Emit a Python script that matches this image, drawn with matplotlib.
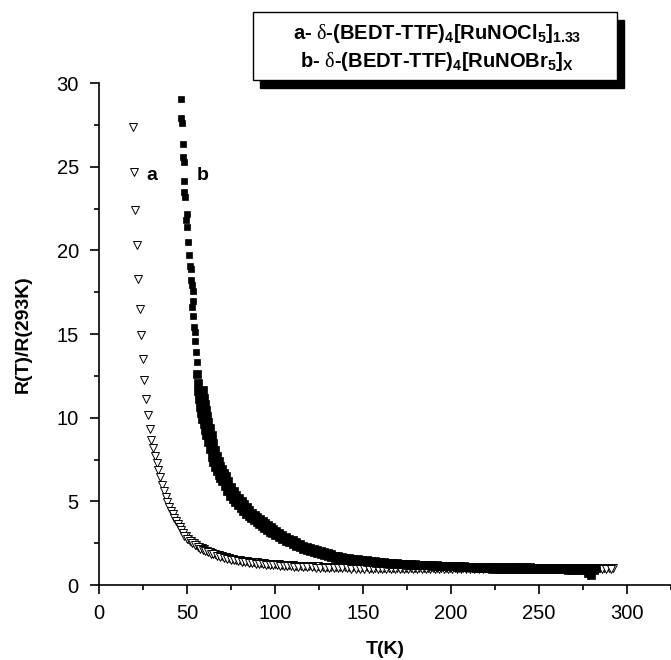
import matplotlib
matplotlib.use('Agg')
import matplotlib.pyplot as plt
from matplotlib.patches import Rectangle

plt.rcParams['font.family'] = ['Liberation Sans', 'DejaVu Sans']
plt.rcParams['mathtext.fontset'] = 'custom'
plt.rcParams['mathtext.rm'] = 'Liberation Sans:bold'
plt.rcParams['mathtext.it'] = 'Liberation Sans:bold'
plt.rcParams['mathtext.bf'] = 'Liberation Sans:bold'
plt.rcParams['mathtext.sf'] = 'Liberation Serif'

# curve a: delta-(BEDT-TTF)4[RuNOCl5]1.33, open triangles
T_a = [19.4, 19.9, 20.5, 21.4, 22.3, 23.1, 24.1, 24.8, 25.7, 26.7, 27.8, 28.8,
       29.8, 30.8, 31.8, 32.8, 33.8, 34.8, 35.8, 36.8, 37.8, 38.8, 39.8, 40.8,
       41.8, 42.8, 43.8, 44.8, 45.8, 46.8, 47.8, 49.3, 50.8, 52.3, 53.8, 55.3,
       56.8, 58.3, 59.8, 61.3, 62.8, 64.3, 65.8, 68, 70, 72, 74, 76, 78, 80,
       82, 84, 86, 88, 90, 92, 94, 96, 98, 100, 102, 104, 106, 108, 110, 112,
       114.5, 117, 119.5, 122, 124.5, 127, 129.5, 132, 134.5, 137, 139.5, 142,
       144.5, 147, 149.5, 152, 154.5, 157, 159.5, 162, 164.5, 167, 169.5, 172,
       174.5, 177, 179.5, 182, 184.5, 187, 189.5, 192, 194.5, 197, 199.5, 202,
       204.5, 207, 209.5, 212, 214.5, 217, 219.5, 222, 224.5, 227, 229.5, 232,
       234.5, 237, 239.5, 242, 244.5, 247, 249.5, 252, 254.5, 257, 259.5, 262,
       264.5, 267, 269.5, 272, 274.5, 277, 279.5, 282, 284.5, 287, 289.5, 292]
R_a = [27.4, 24.7, 22.4, 20.3, 18.3, 16.5, 14.95, 13.5, 12.25, 11.1, 10.16, 9.3,
       8.67, 8.17, 7.71, 7.27, 6.90, 6.45, 6.00, 5.60, 5.25, 4.95, 4.68, 4.45,
       4.22, 4.00, 3.80, 3.62, 3.45, 3.28, 3.12, 2.93, 2.77, 2.64, 2.52, 2.40,
       2.30, 2.21, 2.13, 2.06, 1.99, 1.93, 1.88, 1.81, 1.74, 1.68, 1.61, 1.56,
       1.52, 1.48, 1.45, 1.42, 1.39, 1.37, 1.35, 1.32, 1.30, 1.28, 1.27, 1.25,
       1.24, 1.22, 1.21, 1.19, 1.18, 1.16,
       1.15, 1.14, 1.13, 1.12, 1.11, 1.10, 1.09, 1.08, 1.08, 1.07, 1.07, 1.06,
       1.06, 1.05, 1.05, 1.05, 1.04, 1.04, 1.04, 1.03, 1.03, 1.03, 1.03, 1.02,
       1.02, 1.02, 1.02, 1.02, 1.01, 1.01, 1.01, 1.01, 1.01, 1.01, 1.01, 1.00,
       1.00, 1.00, 1.00, 1.00, 1.00, 1.00, 1.00, 1.00, 1.00, 1.00, 1.00, 1.00,
       1.00, 1.00, 1.00, 1.00, 1.00, 1.00, 1.00, 1.00, 1.00, 1.00, 1.00, 1.00,
       1.00, 1.00, 1.00, 1.00, 1.00, 1.00, 1.00, 1.00, 1.00, 1.00, 1.00, 1.00]

# curve a, second sweep
T_a2 = [48.5, 50, 51.5, 53, 54.5, 56, 57.5, 59, 60.5, 62, 63.5, 65, 67, 69, 71,
        73, 75, 77, 79, 81, 83, 85, 87, 89, 91, 93, 95, 97, 99, 101, 103, 105,
        107, 109, 111, 113.3, 115.8, 118.3, 120.8, 123.3, 125.8, 128.3, 130.8,
        133.3, 135.8, 138.3, 140.8, 143.3, 145.8, 148.3, 150.8, 153.3, 155.8,
        158.3, 160.8, 163.3, 165.8, 168.3, 170.8, 173.3, 175.8, 178.3, 180.8,
        183.3, 185.8, 188.3, 190.8, 193.3, 195.8, 198.3, 200.8, 203.3, 205.8,
        208.3, 210.8, 213.3, 215.8, 218.3, 220.8, 223.3, 225.8, 228.3, 230.8,
        233.3, 235.8, 238.3, 240.8, 243.3, 245.8, 248.3, 250.8, 253.3, 255.8,
        258.3, 260.8, 263.3, 265.8, 268.3, 270.8, 273.3, 275.8, 278.3, 280.8,
        283.3, 285.8, 288.3, 290.8]
R_a2 = [2.95, 2.78, 2.63, 2.50, 2.38, 2.27, 2.18, 2.09, 2.02, 1.95, 1.88, 1.83,
        1.76, 1.69, 1.63, 1.57, 1.51, 1.47, 1.43, 1.39, 1.36, 1.33, 1.31, 1.28,
        1.26, 1.24, 1.22, 1.20, 1.19, 1.17, 1.16, 1.14, 1.13, 1.11, 1.10, 1.08,
        1.07, 1.06, 1.05, 1.04, 1.03, 1.02, 1.01, 1.00, 1.00, 0.99, 0.99, 0.98,
        0.98, 0.97, 0.97, 0.97, 0.97, 0.96, 0.96, 0.96, 0.96, 0.96, 0.96, 0.96,
        0.95, 0.95, 0.95, 0.95, 0.95, 0.95, 0.95, 0.95, 0.95, 0.95, 0.95, 0.95,
        0.95, 0.95, 0.95, 0.95, 0.95, 0.95, 0.95, 0.95, 0.95, 0.95, 0.95, 0.95,
        0.95, 0.95, 0.95, 0.95, 0.95, 0.95, 0.95, 0.95, 0.95, 0.95, 0.95, 0.95,
        0.95, 0.95, 0.95, 0.95, 0.95, 0.95, 0.95, 0.95, 0.95, 0.95, 0.95]

# curve b: delta-(BEDT-TTF)4[RuNOBr5]x, filled squares (first sweep)
T_b = [46.6, 46.6, 47.2, 47.5, 47.5, 48.1, 48.5, 48.3, 48.9, 49.8, 49.4, 50.2,
       50.7, 51.3, 51.7, 52.3, 52.3, 52.7, 53.2, 53.2, 52.7, 53.6, 54.1, 54.5,
       54.5, 55.0, 55.5, 55.6, 56.0, 56.5, 57.0, 57.5, 58.0, 58.7, 59.4, 60.2,
       61.0, 62.0, 63.0, 64.0, 65.0, 66.0, 67.0, 68.0, 69.0, 70.0, 71.5, 73.0,
       74.5, 76.0, 77.5, 79.0, 80.5, 82.0, 83.5, 85.0, 86.5, 88.0, 89.5, 91.0,
       92.5, 94.0, 95.5, 97.0, 98.5, 100, 102, 104, 106, 108, 110, 112, 114,
       116, 118, 120, 122, 124, 126, 128, 130, 132, 134, 136, 138, 140,
       142.5, 145, 147.5, 150, 152.5, 155, 157.5, 160, 162.5, 165, 167.5, 170,
       172.5, 175, 177.5, 180, 182.5, 185, 187.5, 190, 192.5, 195, 197.5, 200,
       202.5, 205, 207.5, 210, 212.5, 215, 217.5, 220, 222.5, 225, 227.5, 230,
       232.5, 235, 237.5, 240, 242.5, 245, 247.5, 250, 252.5, 255, 257.5, 260,
       262.5, 265, 267.5, 270, 272.5, 275, 277.5, 280, 282.5, 278, 279.5]
R_b = [29.05, 27.9, 27.6, 26.36, 25.6, 25.3, 24.17, 23.5, 23.2, 22.2, 21.8, 21.4,
       20.5, 19.7, 19.07, 18.9, 18.2, 17.9, 17.6, 17.0, 16.6, 16.1, 15.4, 15.1,
       14.6, 13.9, 13.35, 12.6, 12.1, 11.6, 11.1, 10.65, 10.3, 9.95, 9.6, 9.26,
       8.95, 8.55, 8.1, 7.67, 7.35, 7.05, 6.8, 6.6, 6.4, 6.2, 5.9, 5.6,
       5.35, 5.12, 4.95, 4.78, 4.6, 4.42, 4.26, 4.11, 3.98, 3.86, 3.74, 3.62,
       3.51, 3.40, 3.29, 3.19, 3.09, 2.96, 2.86, 2.75, 2.65, 2.55, 2.44, 2.32, 2.25,
       2.18, 2.11, 2.04, 1.98, 1.92, 1.86, 1.80, 1.74, 1.68, 1.64, 1.60, 1.56, 1.53,
       1.50, 1.47, 1.44, 1.41, 1.39, 1.36, 1.34, 1.32, 1.30, 1.28, 1.27, 1.25,
       1.24, 1.22, 1.21, 1.20, 1.19, 1.18, 1.17, 1.16, 1.15, 1.14, 1.13, 1.12,
       1.12, 1.11, 1.11, 1.10, 1.10, 1.09, 1.09, 1.08, 1.08, 1.07, 1.07, 1.07,
       1.06, 1.06, 1.06, 1.05, 1.05, 1.05, 1.04, 1.04, 1.04, 1.04, 1.03, 1.03,
       1.03, 1.03, 1.02, 1.02, 1.02, 1.02, 1.01, 1.01, 1.00, 0.70, 0.60]

# curve b, second sweep (gives the broad band)
T_b2 = [59.0, 59.5, 60.0, 60.7, 61.4, 62.2, 63.0, 64.0, 65.0, 66.0, 67.0, 68.0,
        69.0, 70.0, 71.0, 72.0, 73.5, 75.0, 76.5, 78.0, 79.5, 81.0, 82.5, 84.0,
        85.5, 87.0, 88.5, 90.0, 91.5, 93.0, 94.5, 96.0, 97.5, 99.0, 100.5, 102,
        104, 106, 108, 110, 112, 114, 116, 118, 120, 122, 124, 126, 128, 130,
        132, 134, 136, 138, 140, 142,
        144.5, 147, 149.5, 152, 154.5, 157, 159.5, 162, 164.5, 167, 169.5, 172,
        174.5, 177, 179.5, 182, 184.5, 187, 189.5, 192, 194.5, 197, 199.5,
        201.5, 204, 206.5, 209, 211.5, 214, 216.5, 219, 221.5, 224, 226.5, 229,
        231.5, 234, 236.5, 239, 241.5, 244, 246.5, 249, 251.5, 254, 256.5, 259,
        261.5, 264, 266.5, 269, 271.5, 274, 276.5, 279, 281.5]
R_b2 = [11.66, 11.18, 10.82, 10.45, 10.08, 9.72, 9.40, 8.98, 8.51, 8.05, 7.72, 7.40,
        7.14, 6.93, 6.72, 6.51, 6.20, 5.88, 5.62, 5.38, 5.20, 5.02, 4.83, 4.64,
        4.47, 4.32, 4.18, 4.05, 3.93, 3.80, 3.69, 3.57, 3.45, 3.35, 3.24, 3.11,
        3.00, 2.89, 2.78, 2.68, 2.56, 2.44, 2.36, 2.29, 2.22, 2.14, 2.08, 2.02,
        1.95, 1.89, 1.83, 1.76, 1.72, 1.68, 1.64, 1.61,
        1.57, 1.54, 1.50, 1.47, 1.45, 1.41, 1.39, 1.37, 1.34, 1.32, 1.31, 1.28,
        1.27, 1.25, 1.24, 1.22, 1.21, 1.20, 1.18, 1.17, 1.16, 1.14, 1.13,
        1.11, 1.09, 1.08, 1.06, 1.05, 1.03, 1.02, 1.00, 0.99, 0.98, 0.97, 0.97,
        0.96, 0.96, 0.96, 0.95, 0.95, 0.95, 0.94, 0.94, 0.94, 0.94, 0.93, 0.93,
        0.93, 0.93, 0.92, 0.92, 0.92, 0.92, 0.91, 0.91, 0.90]

legend_lines = [r'a- $\mathsf{\delta}$-(BEDT-TTF)$_4$[RuNOCl$_5$]$_{1.33}$',
                r'b- $\mathsf{\delta}$-(BEDT-TTF)$_4$[RuNOBr$_5$]$_X$']

fig = plt.figure(figsize=(6.71, 6.60), dpi=100)
ax = fig.add_axes([0.1475, 0.1136, 0.8525, 0.7606])

tri = dict(linestyle='none', marker='v', ms=5.3, mfc='white', mec='black', mew=0.7)
sq = dict(linestyle='none', marker='s', mfc='black', mec='black', mew=0.5)
ax.plot(T_a, R_a, **tri)
ax.plot(T_a2, R_a2, **tri)
nsparse = 27  # isolated squares above ~13
ax.plot(T_b[:nsparse], R_b[:nsparse], ms=4.5, **sq)
ax.plot(T_b[nsparse:], R_b[nsparse:], ms=5.6, **sq)
ax.plot(T_b2, R_b2, ms=5.6, **sq)

ax.text(30, 24.5, 'a', fontsize=14, fontweight='bold', ha='center', va='center')
ax.text(59, 24.5, 'b', fontsize=14, fontweight='bold', ha='center', va='center')

ax.set_xlim(0, 325)
ax.set_ylim(0, 30)
ax.set_xticks(range(0, 301, 50))
ax.set_xticks(range(25, 326, 50), minor=True)
ax.set_yticks(range(0, 31, 5))
ax.set_yticks([2.5, 7.5, 12.5, 17.5, 22.5, 27.5], minor=True)
ax.spines['top'].set_visible(False)
ax.spines['right'].set_visible(False)
for s in ['left', 'bottom']:
    ax.spines[s].set_linewidth(1.2)
ax.tick_params(which='major', direction='out', length=6.5, width=1.2,
               labelsize=14.5)
ax.tick_params(which='minor', direction='out', length=3.6, width=1.2)
ax.tick_params(axis='x', pad=7)
ax.tick_params(axis='y', pad=8)

ax.set_xlabel('T(K)', fontsize=14, fontweight='bold', labelpad=13)
ax.set_ylabel('R(T)/R(293K)', fontsize=14, fontweight='bold', labelpad=18)

# legend box with drop shadow
W, H = 671.0, 660.0
bx0, bx1, by0, by1 = 253 / W, 617 / W, 1 - 80 / H, 1 - 12 / H
fig.add_artist(Rectangle((bx0 + 7 / W, by0 - 8 / H), bx1 - bx0, by1 - by0,
                         transform=fig.transFigure, facecolor='black',
                         edgecolor='black', zorder=5))
fig.add_artist(Rectangle((bx0, by0), bx1 - bx0, by1 - by0,
                         transform=fig.transFigure, facecolor='white',
                         edgecolor='black', lw=1.0, zorder=6))
fig.text(437 / W, 1 - 39 / H, legend_lines[0], fontsize=14.5, fontweight='bold',
         ha='center', va='baseline', zorder=7)
fig.text(437 / W, 1 - 67 / H, legend_lines[1], fontsize=14.5, fontweight='bold',
         ha='center', va='baseline', zorder=7)

fig.savefig('out.png', dpi=100)
